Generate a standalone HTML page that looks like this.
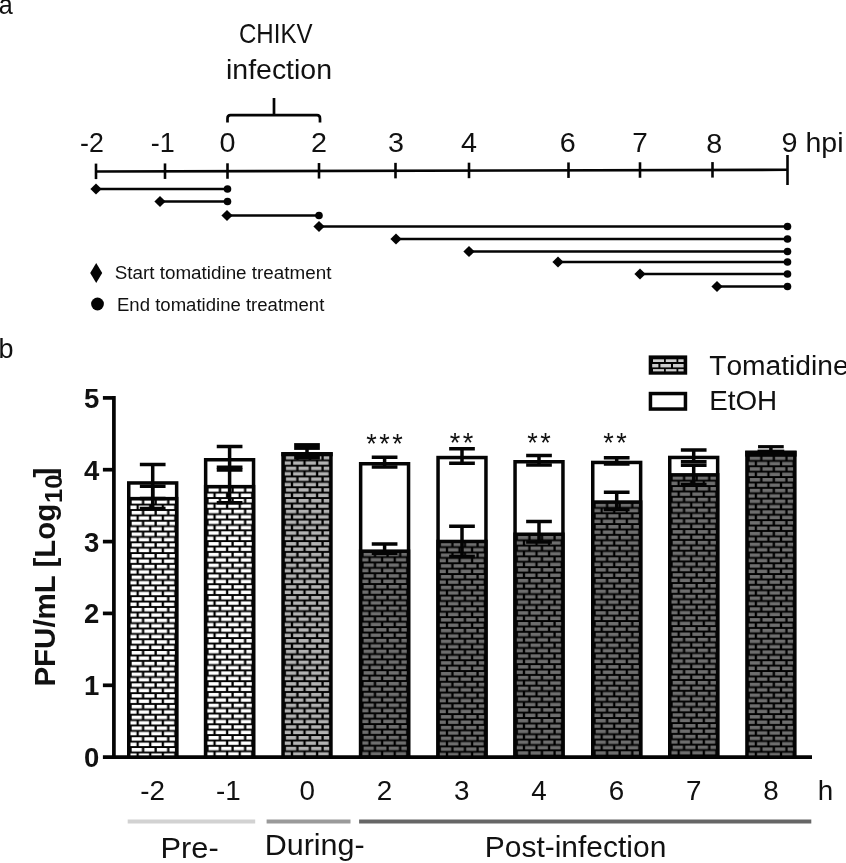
<!DOCTYPE html>
<html><head><meta charset="utf-8"><title>Figure</title>
<style>html,body{margin:0;padding:0;background:#fff;overflow:hidden}svg{display:block;filter:grayscale(1)}text{font-family:"Liberation Sans",sans-serif;fill:#111}</style></head><body>
<svg width="846" height="863" viewBox="0 0 846 863">
<rect width="846" height="863" fill="#fff"/>
<g>
<defs>
<pattern id="pw" patternUnits="userSpaceOnUse" x="0" y="0" width="12.58" height="10.775"><rect width="12.58" height="10.775" fill="#000"/><rect x="4.65" y="1.0" width="8.03" height="3.5" fill="#ffffff"/><rect x="-0.1" y="1.0" width="2.47" height="3.5" fill="#ffffff"/><rect x="11.8" y="6.3875" width="0.88" height="3.5" fill="#ffffff"/><rect x="-0.1" y="6.3875" width="9.62" height="3.5" fill="#ffffff"/></pattern>
<pattern id="pg" patternUnits="userSpaceOnUse" x="0" y="0" width="12.58" height="10.775"><rect width="12.58" height="10.775" fill="#000"/><rect x="4.65" y="1.0" width="8.03" height="3.5" fill="#b2b2b2"/><rect x="-0.1" y="1.0" width="2.47" height="3.5" fill="#b2b2b2"/><rect x="11.8" y="6.3875" width="0.88" height="3.5" fill="#b2b2b2"/><rect x="-0.1" y="6.3875" width="9.62" height="3.5" fill="#b2b2b2"/></pattern>
<pattern id="pd" patternUnits="userSpaceOnUse" x="0" y="0" width="12.58" height="10.775"><rect width="12.58" height="10.775" fill="#000"/><rect x="4.65" y="1.0" width="8.03" height="3.5" fill="#6e6e6e"/><rect x="-0.1" y="1.0" width="2.47" height="3.5" fill="#6e6e6e"/><rect x="11.8" y="6.3875" width="0.88" height="3.5" fill="#6e6e6e"/><rect x="-0.1" y="6.3875" width="9.62" height="3.5" fill="#6e6e6e"/></pattern>
</defs>
<text x="-1.3" y="14.1" font-size="27" textLength="14" lengthAdjust="spacingAndGlyphs">a</text>
<text x="239" y="43.3" font-size="27.5" textLength="73.5" lengthAdjust="spacingAndGlyphs">CHIKV</text>
<text x="226" y="79.4" font-size="27.5" textLength="106" lengthAdjust="spacingAndGlyphs">infection</text>
<path d="M227.5 122.5 V118.5 Q227.5 115.2 230.5 115.2 H317 Q320 115.2 320 118.5 V122.5 M274 115.2 V98" fill="none" stroke="#040404" stroke-width="2.7"/>
<path d="M96 171.5 L787.5 169.8" stroke="#040404" stroke-width="2.6" fill="none"/>
<path d="M96 163.60 V179.10" stroke="#040404" stroke-width="2.6"/>
<path d="M165 163.43 V178.93" stroke="#040404" stroke-width="2.6"/>
<path d="M227.5 163.28 V178.78" stroke="#040404" stroke-width="2.6"/>
<path d="M319 163.05 V178.55" stroke="#040404" stroke-width="2.6"/>
<path d="M395.5 162.86 V178.36" stroke="#040404" stroke-width="2.6"/>
<path d="M469 162.68 V178.18" stroke="#040404" stroke-width="2.6"/>
<path d="M568.5 162.44 V177.94" stroke="#040404" stroke-width="2.6"/>
<path d="M640 162.26 V177.76" stroke="#040404" stroke-width="2.6"/>
<path d="M712.5 162.08 V177.58" stroke="#040404" stroke-width="2.6"/>
<path d="M787.5 155 V185" stroke="#040404" stroke-width="2.6"/>
<text x="80" y="151.5" font-size="27.5" textLength="23.8" lengthAdjust="spacingAndGlyphs">-2</text>
<text x="150.8" y="151.5" font-size="27.5" textLength="24" lengthAdjust="spacingAndGlyphs">-1</text>
<text x="219.5" y="151.5" font-size="27.5" textLength="16" lengthAdjust="spacingAndGlyphs">0</text>
<text x="311" y="151.5" font-size="27.5" textLength="16" lengthAdjust="spacingAndGlyphs">2</text>
<text x="388" y="151.5" font-size="27.5" textLength="16" lengthAdjust="spacingAndGlyphs">3</text>
<text x="461" y="151.5" font-size="27.5" textLength="16" lengthAdjust="spacingAndGlyphs">4</text>
<text x="559.8" y="151.5" font-size="27.5" textLength="16" lengthAdjust="spacingAndGlyphs">6</text>
<text x="632.2" y="151.5" font-size="27.5" textLength="15.5" lengthAdjust="spacingAndGlyphs">7</text>
<text x="706.2" y="153.3" font-size="27.5" textLength="16" lengthAdjust="spacingAndGlyphs">8</text>
<text x="781.5" y="151.5" font-size="27.5" textLength="16" lengthAdjust="spacingAndGlyphs">9</text>
<text x="805.5" y="151.5" font-size="27.5" textLength="38" lengthAdjust="spacingAndGlyphs">hpi</text>
<path d="M96 189 H227.5" stroke="#040404" stroke-width="2.4"/>
<path d="M90.4 189 L96 183.4 L101.6 189 L96 194.6Z" fill="#040404"/>
<circle cx="227.5" cy="189" r="3.8" fill="#040404"/>
<path d="M160 201.5 H227.5" stroke="#040404" stroke-width="2.4"/>
<path d="M154.4 201.5 L160 195.9 L165.6 201.5 L160 207.1Z" fill="#040404"/>
<circle cx="227.5" cy="201.5" r="3.8" fill="#040404"/>
<path d="M227 215.5 H319" stroke="#040404" stroke-width="2.4"/>
<path d="M221.4 215.5 L227 209.9 L232.6 215.5 L227 221.1Z" fill="#040404"/>
<circle cx="319" cy="215.5" r="3.8" fill="#040404"/>
<path d="M319 226.5 H787.5" stroke="#040404" stroke-width="2.4"/>
<path d="M313.4 226.5 L319 220.9 L324.6 226.5 L319 232.1Z" fill="#040404"/>
<circle cx="787.5" cy="226.5" r="3.8" fill="#040404"/>
<path d="M396 239 H787.5" stroke="#040404" stroke-width="2.4"/>
<path d="M390.4 239 L396 233.4 L401.6 239 L396 244.6Z" fill="#040404"/>
<circle cx="787.5" cy="239" r="3.8" fill="#040404"/>
<path d="M469 251.5 H787.5" stroke="#040404" stroke-width="2.4"/>
<path d="M463.4 251.5 L469 245.9 L474.6 251.5 L469 257.1Z" fill="#040404"/>
<circle cx="787.5" cy="251.5" r="3.8" fill="#040404"/>
<path d="M558 262 H787.5" stroke="#040404" stroke-width="2.4"/>
<path d="M552.4 262 L558 256.4 L563.6 262 L558 267.6Z" fill="#040404"/>
<circle cx="787.5" cy="262" r="3.8" fill="#040404"/>
<path d="M640 274 H787.5" stroke="#040404" stroke-width="2.4"/>
<path d="M634.4 274 L640 268.4 L645.6 274 L640 279.6Z" fill="#040404"/>
<circle cx="787.5" cy="274" r="3.8" fill="#040404"/>
<path d="M717 286.5 H787.5" stroke="#040404" stroke-width="2.4"/>
<path d="M711.4 286.5 L717 280.9 L722.6 286.5 L717 292.1Z" fill="#040404"/>
<circle cx="787.5" cy="286.5" r="3.8" fill="#040404"/>
<path d="M90.2 273 L96.2 263 L102.2 273 L96.2 283Z" fill="#040404"/>
<circle cx="97.5" cy="304" r="6.4" fill="#040404"/>
<text x="114.7" y="279" font-size="17.5" textLength="216.7" lengthAdjust="spacingAndGlyphs">Start tomatidine treatment</text>
<text x="117" y="310.7" font-size="17.5" textLength="207.3" lengthAdjust="spacingAndGlyphs">End tomatidine treatment</text>
<text x="-1.6" y="358.3" font-size="27">b</text>
<rect x="648.7" y="355.4" width="38.5" height="19.3" fill="#040404"/>
<rect x="653" y="359.3" width="11.0" height="2.7" fill="#cdcdcd"/>
<rect x="653" y="369.1" width="11.0" height="2.3" fill="#cdcdcd"/>
<rect x="665.8" y="359.3" width="10.7" height="2.7" fill="#cdcdcd"/>
<rect x="665.8" y="369.1" width="10.7" height="2.3" fill="#cdcdcd"/>
<rect x="678.3" y="359.3" width="5.3" height="2.7" fill="#cdcdcd"/>
<rect x="678.3" y="369.1" width="5.3" height="2.3" fill="#cdcdcd"/>
<rect x="652.2" y="364" width="6.2" height="3.4" fill="#cdcdcd"/>
<rect x="660.4" y="364" width="10.6" height="3.4" fill="#cdcdcd"/>
<rect x="673" y="364" width="10.6" height="3.4" fill="#cdcdcd"/>
<rect x="650.45" y="393.55" width="35" height="15.5" fill="#fff" stroke="#040404" stroke-width="3.5"/>
<text x="709.2" y="374.6" font-size="28.2" style="font-kerning:none">Tomatidine</text>
<text x="709.2" y="410.2" font-size="27.8" style="font-kerning:none">EtOH</text>
<path d="M113.9 396.04999999999995 V757.1" stroke="#040404" stroke-width="3.7" fill="none"/>
<path d="M102.9 757.1 H812" stroke="#040404" stroke-width="3.7" fill="none"/>
<text x="99.3" y="767.0" font-size="27.5" font-weight="bold" text-anchor="end">0</text>
<path d="M102.9 685.3 H114.5" stroke="#040404" stroke-width="3.7"/>
<text x="99.3" y="695.2" font-size="27.5" font-weight="bold" text-anchor="end">1</text>
<path d="M102.9 613.4 H114.5" stroke="#040404" stroke-width="3.7"/>
<text x="99.3" y="623.3" font-size="27.5" font-weight="bold" text-anchor="end">2</text>
<path d="M102.9 541.6 H114.5" stroke="#040404" stroke-width="3.7"/>
<text x="99.3" y="551.5" font-size="27.5" font-weight="bold" text-anchor="end">3</text>
<path d="M102.9 469.7 H114.5" stroke="#040404" stroke-width="3.7"/>
<text x="99.3" y="479.6" font-size="27.5" font-weight="bold" text-anchor="end">4</text>
<path d="M102.9 397.9 H114.5" stroke="#040404" stroke-width="3.7"/>
<text x="99.3" y="407.8" font-size="27.5" font-weight="bold" text-anchor="end">5</text>
<g transform="translate(55.3,686.6) rotate(-90)" font-weight="bold"><text x="0" y="0" font-size="29.5">PFU/mL [Log</text><text x="183.6" y="6.3" font-size="23.5" textLength="28.5" lengthAdjust="spacingAndGlyphs">10</text><text x="209" y="0" font-size="29.5">]</text></g>
<g transform="translate(127.0,747.0)">
<rect x="1.75" y="-264.05" width="47.9" height="274.15" fill="#fff" stroke="#040404" stroke-width="3.5"/>
<rect x="1.75" y="-248.35" width="47.9" height="258.45" fill="url(#pw)" stroke="#040404" stroke-width="3.5"/>
</g>
<path d="M152.70 464.40 V498.40" stroke="#040404" stroke-width="3.5" fill="none"/>
<path d="M139.85 464.40 H165.55 M139.85 498.40 H165.55" stroke="#040404" stroke-width="3.5" fill="none"/>
<path d="M152.70 486.30 V508.40" stroke="#040404" stroke-width="3.5" fill="none"/>
<path d="M139.85 486.30 H165.55 M139.85 508.40 H165.55" stroke="#040404" stroke-width="3.5" fill="none"/>
<g transform="translate(203.9,745.8)">
<rect x="1.75" y="-286.05" width="47.9" height="297.35" fill="#fff" stroke="#040404" stroke-width="3.5"/>
<rect x="1.75" y="-259.15" width="47.9" height="270.45" fill="url(#pw)" stroke="#040404" stroke-width="3.5"/>
</g>
<path d="M229.60 446.40 V470.00" stroke="#040404" stroke-width="3.5" fill="none"/>
<path d="M216.75 446.40 H242.45 M216.75 470.00 H242.45" stroke="#040404" stroke-width="3.5" fill="none"/>
<path d="M229.60 467.30 V502.70" stroke="#040404" stroke-width="3.5" fill="none"/>
<path d="M216.75 467.30 H242.45 M216.75 502.70 H242.45" stroke="#040404" stroke-width="3.5" fill="none"/>
<g transform="translate(281.3,745.8)">
<rect x="1.75" y="-291.95" width="47.9" height="303.25" fill="url(#pg)" stroke="#040404" stroke-width="3.5"/>
</g>
<g transform="translate(358.9,745.6)">
<rect x="1.75" y="-281.85" width="47.9" height="293.35" fill="#fff" stroke="#040404" stroke-width="3.5"/>
<rect x="1.75" y="-194.45" width="47.9" height="205.95" fill="url(#pd)" stroke="#040404" stroke-width="3.5"/>
</g>
<path d="M384.60 457.30 V467.10" stroke="#040404" stroke-width="3.5" fill="none"/>
<path d="M371.75 457.30 H397.45 M371.75 467.10 H397.45" stroke="#040404" stroke-width="3.5" fill="none"/>
<path d="M384.60 543.90 V553.20" stroke="#040404" stroke-width="3.5" fill="none"/>
<path d="M371.75 543.90 H397.45 M371.75 553.20 H397.45" stroke="#040404" stroke-width="3.5" fill="none"/>
<g transform="translate(436.3,746.4)">
<rect x="1.75" y="-288.85" width="47.9" height="299.55" fill="#fff" stroke="#040404" stroke-width="3.5"/>
<rect x="1.75" y="-204.95" width="47.9" height="215.65" fill="url(#pd)" stroke="#040404" stroke-width="3.5"/>
</g>
<path d="M462.00 448.70 V463.30" stroke="#040404" stroke-width="3.5" fill="none"/>
<path d="M449.15 448.70 H474.85 M449.15 463.30 H474.85" stroke="#040404" stroke-width="3.5" fill="none"/>
<path d="M462.00 526.20 V556.60" stroke="#040404" stroke-width="3.5" fill="none"/>
<path d="M449.15 526.20 H474.85 M449.15 556.60 H474.85" stroke="#040404" stroke-width="3.5" fill="none"/>
<g transform="translate(513.3,750.3)">
<rect x="1.75" y="-288.55" width="47.9" height="295.35" fill="#fff" stroke="#040404" stroke-width="3.5"/>
<rect x="1.75" y="-216.05" width="47.9" height="222.85" fill="url(#pd)" stroke="#040404" stroke-width="3.5"/>
</g>
<path d="M539.00 455.50 V464.90" stroke="#040404" stroke-width="3.5" fill="none"/>
<path d="M526.15 455.50 H551.85 M526.15 464.90 H551.85" stroke="#040404" stroke-width="3.5" fill="none"/>
<path d="M539.00 521.40 V541.90" stroke="#040404" stroke-width="3.5" fill="none"/>
<path d="M526.15 521.40 H551.85 M526.15 541.90 H551.85" stroke="#040404" stroke-width="3.5" fill="none"/>
<g transform="translate(591.0,750.3)">
<rect x="1.75" y="-287.85" width="47.9" height="294.65" fill="#fff" stroke="#040404" stroke-width="3.5"/>
<rect x="1.75" y="-248.25" width="47.9" height="255.05" fill="url(#pd)" stroke="#040404" stroke-width="3.5"/>
</g>
<path d="M616.70 457.80 V464.00" stroke="#040404" stroke-width="3.5" fill="none"/>
<path d="M603.85 457.80 H629.55 M603.85 464.00 H629.55" stroke="#040404" stroke-width="3.5" fill="none"/>
<path d="M616.70 492.30 V509.60" stroke="#040404" stroke-width="3.5" fill="none"/>
<path d="M603.85 492.30 H629.55 M603.85 509.60 H629.55" stroke="#040404" stroke-width="3.5" fill="none"/>
<g transform="translate(668.0,744.6)">
<rect x="1.75" y="-287.15" width="47.9" height="299.65" fill="#fff" stroke="#040404" stroke-width="3.5"/>
<rect x="1.75" y="-269.75" width="47.9" height="282.25" fill="url(#pd)" stroke="#040404" stroke-width="3.5"/>
</g>
<path d="M693.70 450.10 V461.70" stroke="#040404" stroke-width="3.5" fill="none"/>
<path d="M680.85 450.10 H706.55 M680.85 461.70 H706.55" stroke="#040404" stroke-width="3.5" fill="none"/>
<path d="M693.70 465.30 V484.50" stroke="#040404" stroke-width="3.5" fill="none"/>
<path d="M680.85 465.30 H706.55 M680.85 484.50 H706.55" stroke="#040404" stroke-width="3.5" fill="none"/>
<g transform="translate(745.2,746.4)">
<rect x="1.75" y="-293.95" width="47.9" height="304.65" fill="url(#pd)" stroke="#040404" stroke-width="3.5"/>
</g>
<rect x="294.15" y="443.1" width="25.7" height="6.8" fill="#040404"/>
<rect x="305.25" y="444" width="3.5" height="14" fill="#040404"/>
<rect x="281.3" y="452.1" width="51.4" height="4.2" fill="#040404"/>
<rect x="294.15" y="456" width="25.7" height="3.6" fill="#040404"/>
<rect x="758.05" y="445.1" width="25.7" height="3.2" fill="#040404"/>
<rect x="769.15" y="446" width="3.5" height="8" fill="#040404"/>
<rect x="745.2" y="450.7" width="51.4" height="5.9" fill="#040404"/>
<rect x="757.55" y="449.6" width="26.7" height="2" fill="#040404"/>
<text x="385.85" y="453.3" font-size="27" text-anchor="middle" letter-spacing="2.55">***</text>
<text x="462.75" y="451.9" font-size="27" text-anchor="middle" letter-spacing="2.55">**</text>
<text x="540.3499999999999" y="452.4" font-size="27" text-anchor="middle" letter-spacing="2.55">**</text>
<text x="616.3" y="452.4" font-size="27" text-anchor="middle" letter-spacing="2.55">**</text>
<text x="152.6" y="799.8" font-size="27.8" text-anchor="middle">-2</text>
<text x="228.4" y="799.8" font-size="27.8" text-anchor="middle">-1</text>
<text x="307.2" y="799.8" font-size="27.8" text-anchor="middle">0</text>
<text x="384.5" y="799.8" font-size="27.8" text-anchor="middle">2</text>
<text x="461.8" y="799.8" font-size="27.8" text-anchor="middle">3</text>
<text x="539.1" y="799.8" font-size="27.8" text-anchor="middle">4</text>
<text x="616.4" y="799.8" font-size="27.8" text-anchor="middle">6</text>
<text x="693.7" y="799.8" font-size="27.8" text-anchor="middle">7</text>
<text x="771.0" y="799.8" font-size="27.8" text-anchor="middle">8</text>
<text x="817.8" y="799.8" font-size="27.8">h</text>
<path d="M127.7 821.5 H255.2" stroke="#d2d2d2" stroke-width="4"/>
<path d="M266.6 821.5 H350.5" stroke="#9a9a9a" stroke-width="4"/>
<path d="M359.1 821.5 H811.3" stroke="#666" stroke-width="4"/>
<text x="160.5" y="857.6" font-size="29.3" textLength="58.2" lengthAdjust="spacingAndGlyphs">Pre-</text>
<text x="264.7" y="855.3" font-size="29.3" textLength="100" lengthAdjust="spacingAndGlyphs">During-</text>
<text x="484.8" y="857.3" font-size="29.3" textLength="181.5" lengthAdjust="spacingAndGlyphs">Post-infection</text>
</g></svg></body></html>
